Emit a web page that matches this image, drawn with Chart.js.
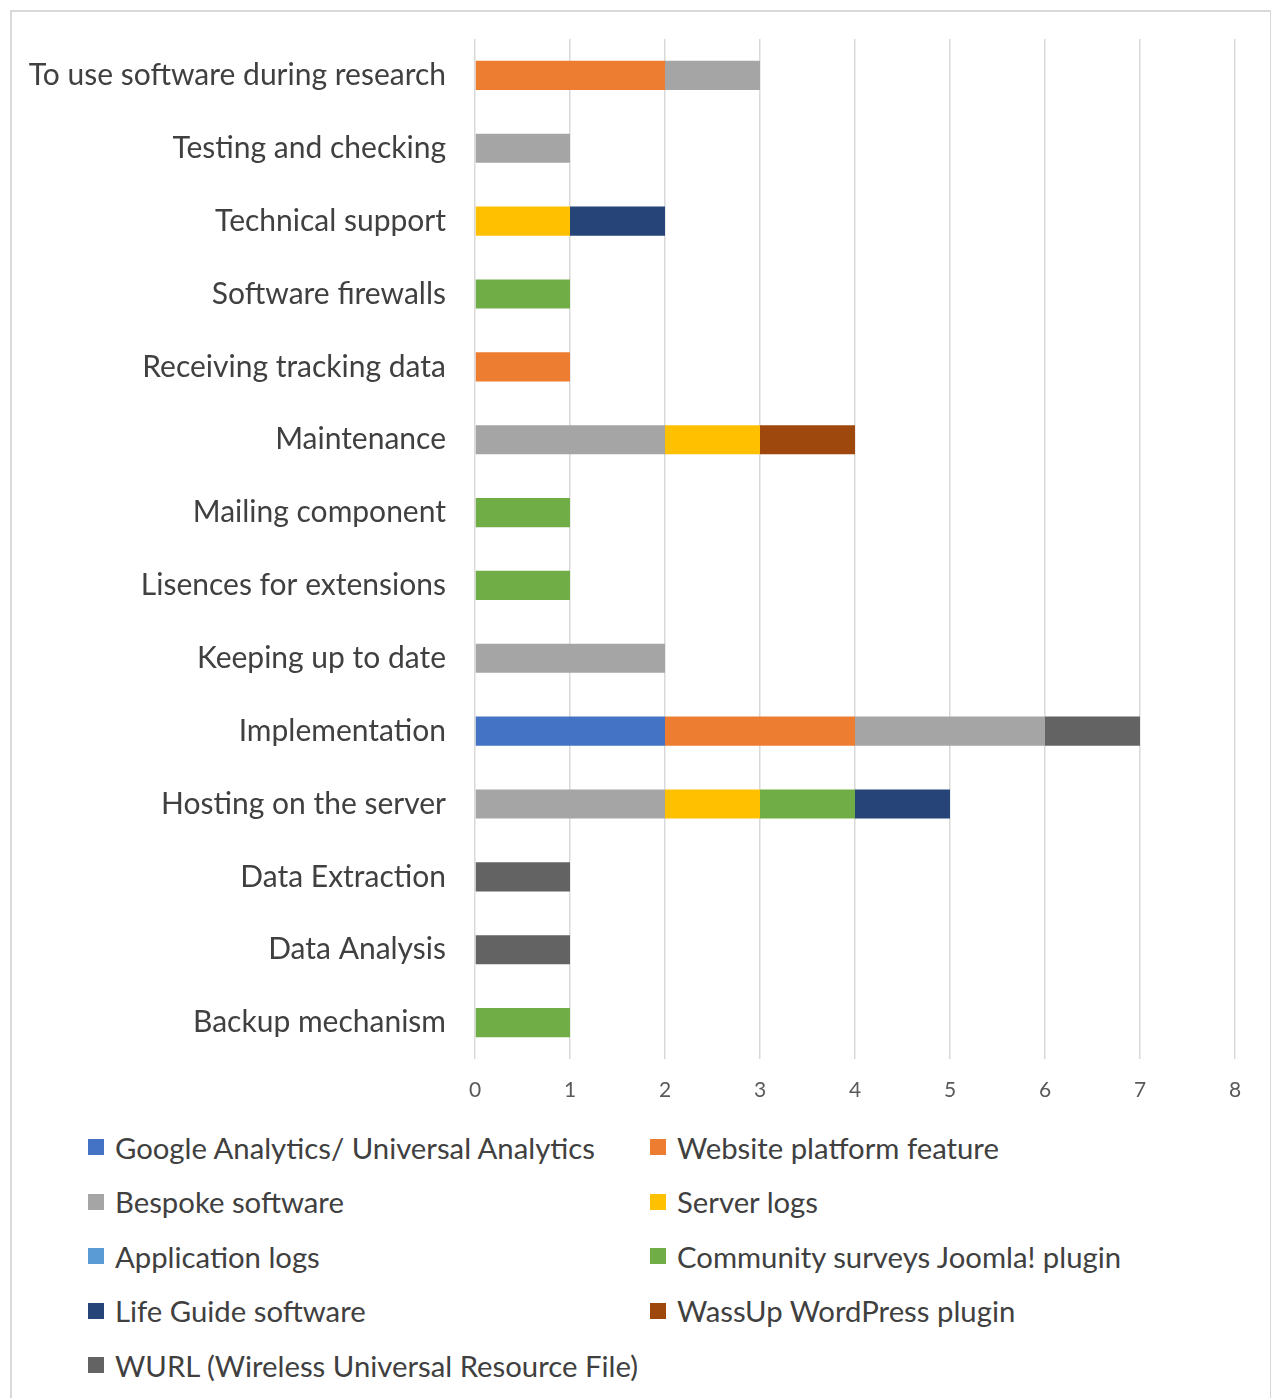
<!DOCTYPE html>
<html>
<head>
<meta charset="utf-8">
<script src="https://cdn.jsdelivr.net/npm/chart.js@4.4.1/dist/chart.umd.min.js"></script>
<style>
  body { margin: 0; background: #fff; width: 1271px; height: 1398px; overflow: hidden; position: relative; }
  #frame { position: absolute; left: 10px; top: 10px; width: 1258px; height: 1400px; border: 2px solid #d9d9d9; border-bottom: none; }
  #chartWrap { position: absolute; left: 0; top: 0; width: 1271px; height: 1101px; }
  #legend {
    position: absolute; left: 88px; top: 1120px;
    display: grid; grid-template-columns: 562px auto; grid-auto-rows: 54.5px;
    font-family: Lato, "Open Sans", sans-serif; font-size: 29.3px; color: #404040;
  }
  .item { display: flex; align-items: center; white-space: nowrap; }
  .swatch { width: 16px; height: 16px; margin-right: 11px; flex: none; }
</style>
</head>
<body>
<div id="frame"></div>
<div id="chartWrap"><canvas id="barChart" width="1271" height="1101"></canvas></div>
<div id="legend"></div>
<script>
const categories = [
    "To use software during research",
    "Testing and checking",
    "Technical support",
    "Software firewalls",
    "Receiving tracking data",
    "Maintenance",
    "Mailing component",
    "Lisences for extensions",
    "Keeping up to date",
    "Implementation",
    "Hosting on the server",
    "Data Extraction",
    "Data Analysis",
    "Backup mechanism",
];

// one value per category, top to bottom
const googleAnalytics = [0, 0, 0, 0, 0, 0, 0, 0, 0, 2, 0, 0, 0, 0];
const websitePlatform = [2, 0, 0, 0, 1, 0, 0, 0, 0, 2, 0, 0, 0, 0];
const bespokeSoftware = [1, 1, 0, 0, 0, 2, 0, 0, 2, 2, 2, 0, 0, 0];
const serverLogs      = [0, 0, 1, 0, 0, 1, 0, 0, 0, 0, 1, 0, 0, 0];
const applicationLogs = [0, 0, 0, 0, 0, 0, 0, 0, 0, 0, 0, 0, 0, 0];
const joomlaPlugin    = [0, 0, 0, 1, 0, 0, 1, 1, 0, 0, 1, 0, 0, 1];
const lifeGuide       = [0, 0, 1, 0, 0, 0, 0, 0, 0, 0, 1, 0, 0, 0];
const wassUpPlugin    = [0, 0, 0, 0, 0, 1, 0, 0, 0, 0, 0, 0, 0, 0];
const wurl            = [0, 0, 0, 0, 0, 0, 0, 0, 0, 1, 0, 1, 1, 0];

const seriesNames = [
    "Google Analytics/ Universal Analytics",
    "Website platform feature",
    "Bespoke software",
    "Server logs",
    "Application logs",
    "Community surveys Joomla! plugin",
    "Life Guide software",
    "WassUp WordPress plugin",
    "WURL (Wireless Universal Resource File)",
];
const seriesValues = [googleAnalytics, websitePlatform, bespokeSoftware, serverLogs,
    applicationLogs, joomlaPlugin, lifeGuide, wassUpPlugin, wurl];
const seriesColors = ["#4472C4", "#ED7D31", "#A5A5A5", "#FFC000", "#5B9BD5",
    "#70AD47", "#264478", "#9E480E", "#636363"];

const xTicks = [0, 1, 2, 3, 4, 5, 6, 7, 8];

const datasets = seriesNames.map((name, i) => ({
    label: name,
    data: seriesValues[i],
    backgroundColor: seriesColors[i],
    borderWidth: 0,
    categoryPercentage: 1,
    barPercentage: 0.4,
}));

const ctx = document.getElementById("barChart").getContext("2d");
const chart = new Chart(ctx, {
    type: "bar",
    data: { labels: categories, datasets: datasets },
    options: {
        indexAxis: "y",
        responsive: false,
        animation: false,
        layout: { padding: { top: 33, right: 36, bottom: 0, left: 0 } },
        plugins: { legend: { display: false }, tooltip: { enabled: false } },
        scales: {
            x: {
                stacked: true,
                min: xTicks[0],
                max: xTicks[xTicks.length - 1],
                afterBuildTicks: (scale) => { scale.ticks = xTicks.map(v => ({ value: v })); },
                afterFit: (scale) => { scale.height = 42; },
                grid: { color: "#d9d9d9", lineWidth: 1.5, drawTicks: false },
                border: { display: false },
                ticks: {
                    padding: 19,
                    color: "#595959",
                    font: { family: "Lato, 'Open Sans', sans-serif", size: 21 },
                },
            },
            y: {
                stacked: true,
                afterFit: (scale) => { scale.width = 475; },
                grid: { display: false },
                border: { display: false },
                ticks: {
                    padding: 21,
                    color: "#404040",
                    font: { family: "Lato, 'Open Sans', sans-serif", size: 30 },
                },
            },
        },
    },
});

// two-column legend under the plot
const legendEl = document.getElementById("legend");
seriesNames.forEach((name, i) => {
    const item = document.createElement("div");
    item.className = "item";
    const swatch = document.createElement("span");
    swatch.className = "swatch";
    swatch.style.background = seriesColors[i];
    const text = document.createElement("span");
    text.textContent = name;
    item.appendChild(swatch);
    item.appendChild(text);
    legendEl.appendChild(item);
});
</script>
</body>
</html>
